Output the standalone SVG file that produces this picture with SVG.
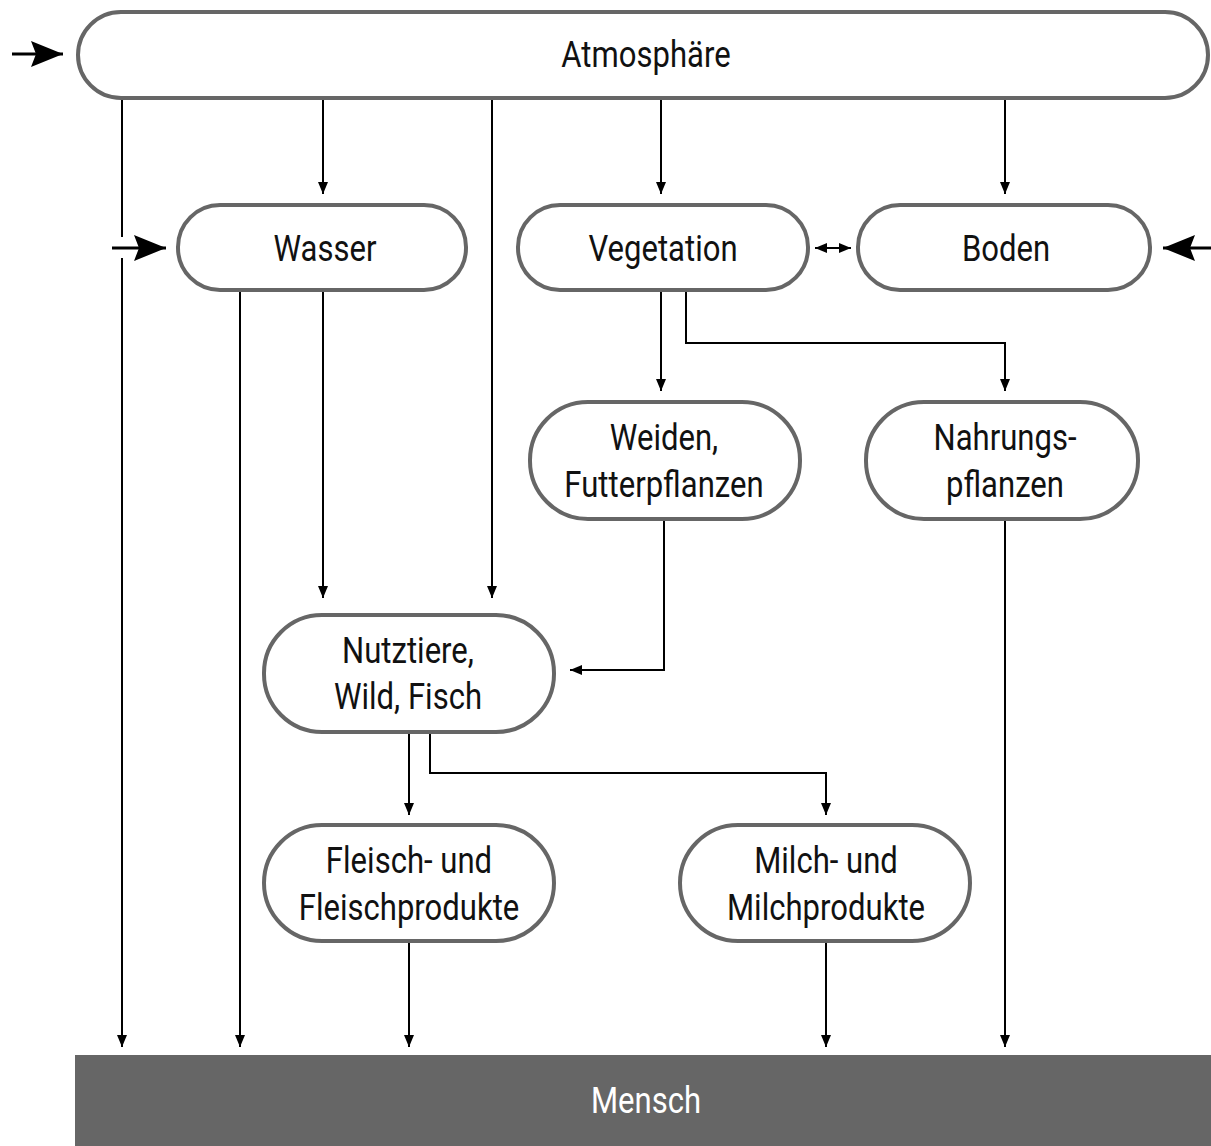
<svg xmlns="http://www.w3.org/2000/svg" width="1211" height="1146" viewBox="0 0 1211 1146">
  <style>
    .node { fill: #fff; stroke: #666; stroke-width: 4; }
    .lbl { font-family: Roboto, "Liberation Sans", sans-serif; font-size: 37px; font-weight: 400; fill: #111; text-anchor: middle; }
    .inv { fill: #fff; }
    .wire { fill: none; stroke: #000; stroke-width: 2; }
    .thick { fill: none; stroke: #000; stroke-width: 3; }
  </style>
  <defs>
    <marker id="tip" viewBox="0 0 12 10" refX="12" refY="5" markerWidth="12" markerHeight="10" markerUnits="userSpaceOnUse" orient="auto-start-reverse">
      <path d="M0,0 L12,5 L0,10 z" fill="#000"/>
    </marker>
    <marker id="big" viewBox="0 0 32 26" refX="32" refY="13" markerWidth="32" markerHeight="26" markerUnits="userSpaceOnUse" orient="auto">
      <path d="M0,0 L32,13 L0,26 L5,13 z" fill="#000"/>
    </marker>
  </defs>

  <g id="connectors">
    <!-- external inputs -->
    <path class="thick" d="M12,54 H63" marker-end="url(#big)"/>
    <path class="thick" d="M112,248 H166" marker-end="url(#big)"/>
    <path class="thick" d="M1211,248 H1163" marker-end="url(#big)"/>
    <!-- from Atmosphäre -->
    <path class="wire" d="M122,99 V237 M122,258 V1047" marker-end="url(#tip)"/>
    <path class="wire" d="M323,99 V194" marker-end="url(#tip)"/>
    <path class="wire" d="M492,99 V598" marker-end="url(#tip)"/>
    <path class="wire" d="M661,99 V194" marker-end="url(#tip)"/>
    <path class="wire" d="M1005,99 V194" marker-end="url(#tip)"/>
    <!-- from Wasser -->
    <path class="wire" d="M240,291 V1047" marker-end="url(#tip)"/>
    <path class="wire" d="M323,291 V598" marker-end="url(#tip)"/>
    <!-- Vegetation and Boden -->
    <path class="wire" d="M815,248 H851" marker-start="url(#tip)" marker-end="url(#tip)"/>
    <path class="wire" d="M661,291 V391" marker-end="url(#tip)"/>
    <path class="wire" d="M686,291 V343 H1005 V391" marker-end="url(#tip)"/>
    <!-- feed to livestock -->
    <path class="wire" d="M664,520 V670 H570" marker-end="url(#tip)"/>
    <path class="wire" d="M1005,520 V1047" marker-end="url(#tip)"/>
    <!-- from Nutztiere -->
    <path class="wire" d="M409,733 V815" marker-end="url(#tip)"/>
    <path class="wire" d="M430,733 V773 H826 V815" marker-end="url(#tip)"/>
    <!-- products to Mensch -->
    <path class="wire" d="M409,942 V1047" marker-end="url(#tip)"/>
    <path class="wire" d="M826,942 V1047" marker-end="url(#tip)"/>
  </g>

  <!-- labels use a horizontally compressed face: matrix(0.84 0 0 1 cx baseline) -->
  <g id="atmosphaere">
    <rect class="node" x="78" y="12" width="1130" height="86" rx="43"/>
    <text class="lbl" transform="matrix(0.84 0 0 1 646 67)">Atmosphäre</text>
  </g>
  <g id="wasser">
    <rect class="node" x="178" y="205" width="288" height="85" rx="42"/>
    <text class="lbl" transform="matrix(0.84 0 0 1 325 261)">Wasser</text>
  </g>
  <g id="vegetation">
    <rect class="node" x="518" y="205" width="290" height="85" rx="42"/>
    <text class="lbl" transform="matrix(0.84 0 0 1 663 261)">Vegetation</text>
  </g>
  <g id="boden">
    <rect class="node" x="858" y="205" width="292" height="85" rx="42"/>
    <text class="lbl" transform="matrix(0.84 0 0 1 1006 261)">Boden</text>
  </g>
  <g id="weiden">
    <rect class="node" x="530" y="402" width="270" height="117" rx="58"/>
    <text class="lbl" transform="matrix(0.84 0 0 1 664 450)">Weiden,</text>
    <text class="lbl" transform="matrix(0.84 0 0 1 664 497)">Futterpflanzen</text>
  </g>
  <g id="nahrungspflanzen">
    <rect class="node" x="866" y="402" width="272" height="117" rx="58"/>
    <text class="lbl" transform="matrix(0.84 0 0 1 1005 450)">Nahrungs-</text>
    <text class="lbl" transform="matrix(0.84 0 0 1 1005 497)">pflanzen</text>
  </g>
  <g id="nutztiere">
    <rect class="node" x="264" y="615" width="290" height="117" rx="58"/>
    <text class="lbl" transform="matrix(0.84 0 0 1 408 663)">Nutztiere,</text>
    <text class="lbl" transform="matrix(0.84 0 0 1 408 709)">Wild, Fisch</text>
  </g>
  <g id="fleisch">
    <rect class="node" x="264" y="825" width="290" height="116" rx="58"/>
    <text class="lbl" transform="matrix(0.84 0 0 1 409 873)">Fleisch- und</text>
    <text class="lbl" transform="matrix(0.84 0 0 1 409 920)">Fleischprodukte</text>
  </g>
  <g id="milch">
    <rect class="node" x="680" y="825" width="290" height="116" rx="58"/>
    <text class="lbl" transform="matrix(0.84 0 0 1 826 873)">Milch- und</text>
    <text class="lbl" transform="matrix(0.84 0 0 1 826 920)">Milchprodukte</text>
  </g>
  <g id="mensch">
    <rect x="75" y="1055" width="1136" height="91" fill="#666"/>
    <text class="lbl inv" transform="matrix(0.84 0 0 1 646 1113)">Mensch</text>
  </g>
</svg>
